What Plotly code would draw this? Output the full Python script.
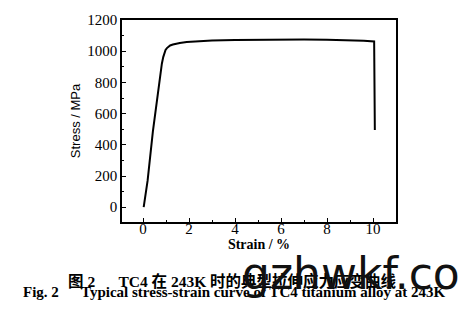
import plotly.graph_objects as go

# Data (strain in %, stress in MPa)
strain = [0.03, 0.10, 0.20, 0.43, 0.60, 0.74, 0.82, 0.88, 0.93, 0.98, 1.04, 1.10, 1.18,
          1.30, 1.45, 1.60, 1.90, 2.20, 3.00, 4.00, 5.00, 6.00, 7.00, 8.00, 9.00,
          9.60, 10.05, 10.08]
stress = [0, 60, 170, 486, 690, 846, 920, 962, 990, 1008, 1020, 1030, 1037,
          1043, 1049, 1053, 1059, 1063, 1069, 1072, 1074, 1075, 1075, 1073, 1070,
          1067, 1062, 495]

x_ticks = [0, 2, 4, 6, 8, 10]
y_ticks = [0, 200, 400, 600, 800, 1000, 1200]

caption_cn = "图 2\u3000\u00a0 TC4 在 243K 时的典型拉伸应力应变曲线"
caption_en = "Fig. 2\u00a0\u00a0\u00a0\u00a0\u00a0 Typical stress-strain curve of TC4 titanium alloy at 243K"
watermark = "gzhwkf.co"

serif = "Liberation Serif, Times New Roman, serif"

fig = go.Figure()
fig.add_trace(go.Scatter(x=strain, y=stress, mode="lines",
                         line=dict(color="black", width=2),
                         showlegend=False, hoverinfo="skip"))

axis_common = dict(showgrid=False, zeroline=False, showline=True, linecolor="black",
                   linewidth=1.5, mirror=True, ticks="inside", ticklen=4, tickwidth=1.2,
                   tickcolor="black", tickfont=dict(family=serif, size=15, color="black"))

fig.update_xaxes(range=[-0.913, 11.0], tickvals=x_ticks, ticklabelstandoff=-8,
                 minor=dict(dtick=1, tick0=0, ticks="inside", ticklen=2.5, tickcolor="black"),
                 title=dict(text="<b>Strain / %</b>", font=dict(family=serif, size=14, color="black"),
                            standoff=1),
                 **axis_common)
fig.update_yaxes(range=[-94.7, 1200], tickvals=y_ticks,
                 minor=dict(dtick=100, tick0=0, ticks="inside", ticklen=2.5, tickcolor="black"),
                 title=dict(text="Stress / MPa", font=dict(family="Liberation Sans, Arial, sans-serif",
                                                             size=13, color="black"),
                            standoff=4),
                 **axis_common)

fig.add_annotation(text="<b>" + caption_cn + "</b>", xref="paper", yref="paper",
                   x=0.405, y=-0.2927, xanchor="center", yanchor="middle", showarrow=False,
                   font=dict(family="Liberation Serif, Noto Sans CJK SC", size=15.5, color="black"))
fig.add_annotation(text="<b>" + caption_en + "</b>", xref="paper", yref="paper",
                   x=0.409, y=-0.3463, xanchor="center", yanchor="middle", showarrow=False,
                   font=dict(family=serif, size=15, color="black"))
fig.add_annotation(text=watermark, xref="paper", yref="paper",
                   x=0.836, y=-0.255, xanchor="center", yanchor="middle", showarrow=False,
                   font=dict(family="DejaVu Sans, Arial, sans-serif", size=44, color="#111111"))

fig.update_layout(width=472, height=325, margin=dict(l=122, r=76, t=17, b=103),
                  paper_bgcolor="white", plot_bgcolor="white")

fig.write_html("out.html")
